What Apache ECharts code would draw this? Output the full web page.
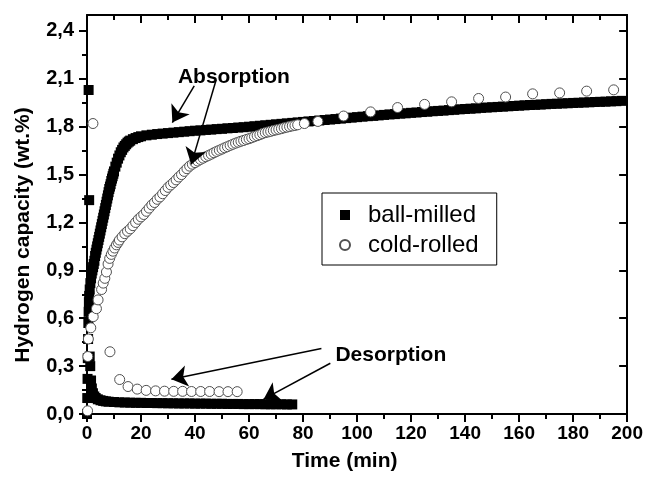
<!DOCTYPE html>
<html><head><meta charset="utf-8">
<script src="https://cdn.jsdelivr.net/npm/echarts@6/dist/echarts.min.js"></script>
<style>html,body{margin:0;padding:0;background:#fff}#c{width:646px;height:477px}</style>
</head><body><div id="c"></div>
<script>
const seriesNames = ['ball-milled', 'cold-rolled'];
const yMajorTicks = [0, 0.3, 0.6, 0.9, 1.2, 1.5, 1.8, 2.1, 2.4];
const yMinorTicks = [0.15, 0.45, 0.75, 1.05, 1.35, 1.65, 1.95, 2.25];
const xTitle = 'Time (min)';
const yTitle = 'Hydrogen capacity (wt.%)';

// ball-milled absorption [time (min), wt.%]
const ballMilledAbs = [
[0,0.0],[0.1,0.1],[0.2,0.22],[0.3,0.35],[0.4,0.47],[0.5,0.57],[0.6,0.64],[0.7,0.7],[0.8,0.74],[1.0,0.78],
[1.25,0.82],[1.5,0.85],[1.75,0.88],[2.0,0.9],[2.25,0.92],[2.5,0.94],[2.75,0.96],[3.0,0.99],[3.25,1.01],[3.5,1.03],
[3.75,1.05],[4.0,1.07],[4.25,1.09],[4.5,1.11],[4.75,1.13],[5.0,1.15],[5.25,1.17],[5.5,1.19],[5.75,1.21],[6.0,1.23],
[6.25,1.25],[6.5,1.27],[6.75,1.29],[7.0,1.31],[7.25,1.33],[7.5,1.35],[7.75,1.37],[8.0,1.39],[8.25,1.41],[8.5,1.425],
[8.75,1.44],[9.0,1.46],[9.25,1.475],[9.5,1.49],[9.75,1.505],[10.0,1.52],[10.5,1.55],[11.0,1.575],[11.5,1.60],[12.0,1.62],
[12.5,1.64],[13.0,1.655],[13.5,1.67],[14.0,1.68],[14.5,1.69],[15.0,1.70],[15.5,1.707],[16,1.713],[17,1.722],[18,1.729],
[19,1.735],[20,1.740],[22,1.746],[24,1.750],[26,1.754],[28,1.757],[30,1.760],[32,1.763],[34,1.766],[36,1.769],[38,1.772],
[40,1.775],[42,1.777],[44,1.780],[46,1.782],[48,1.785],[50,1.787],[52,1.790],[54,1.792],[56,1.795],[58,1.797],
[60,1.800],[62,1.803],[64,1.806],[66,1.809],[68,1.812],[70,1.815],[72,1.818],[74,1.821],[76,1.824],[78,1.827],
[80,1.830],[82,1.833],[84,1.836],[86,1.839],[88,1.842],[90,1.845],[92,1.848],[94,1.851],[96,1.854],[98,1.857],
[100,1.860],[102,1.863],[104,1.866],[106,1.868],[108,1.871],[110,1.874],[112,1.877],[114,1.879],[116,1.882],[118,1.884],
[120,1.887],[122,1.889],[124,1.892],[126,1.894],[128,1.897],[130,1.899],[132,1.901],[134,1.904],[136,1.906],[138,1.909],
[140,1.911],[142,1.913],[144,1.915],[146,1.918],[148,1.920],[150,1.922],[152,1.924],[154,1.926],[156,1.928],[158,1.930],
[160,1.932],[162,1.934],[164,1.936],[166,1.937],[168,1.939],[170,1.941],[172,1.943],[174,1.944],[176,1.946],[178,1.947],
[180,1.949],[182,1.950],[184,1.952],[186,1.953],[188,1.955],[190,1.956],[192,1.957],[194,1.959],[196,1.960],[198,1.962]
];
// ball-milled desorption
const ballMilledDes = [
[0.6,2.03],[0.8,1.34],[1.0,0.36],[1.2,0.3],[1.5,0.21],[1.8,0.16],[2.2,0.13],[2.7,0.11],[3.2,0.1],[4,0.092],
[5,0.086],[6,0.082],[7,0.079],[8,0.077],[10,0.075],[12,0.073],[14,0.072],[16,0.071],[18,0.07],[20,0.07],
[22,0.069],[24,0.069],[26,0.068],[28,0.068],[30,0.067],[32,0.067],[34,0.066],[36,0.066],[38,0.066],[40,0.065],
[42,0.065],[44,0.065],[46,0.064],[48,0.064],[50,0.064],[52,0.063],[54,0.063],[56,0.063],[58,0.062],[60,0.062],
[62,0.062],[64,0.062],[66,0.061],[68,0.061],[70,0.061],[72,0.061],[74,0.06],[76,0.06]
];
// cold-rolled absorption
const coldRolledAbs = [
[0.2,0.02],[0.3,0.36],[0.5,0.47],[1.4,0.54],[2.3,0.61],[3.5,0.66],[4.1,0.715],[5.4,0.78],[6.0,0.82],[6.6,0.85],
[7.2,0.89],[7.8,0.94],[8.4,0.975],[9.0,1.0],[9.6,1.02],[10.2,1.04],[10.9,1.06],[11.5,1.075],[12,1.09],[13,1.11],
[14,1.13],[15,1.145],[16,1.16],[17,1.18],[18,1.20],[19,1.22],[20,1.235],[21,1.25],[22,1.27],[23,1.29],
[24,1.31],[25,1.325],[26,1.345],[27,1.36],[28,1.38],[29,1.40],[30,1.42],[31,1.435],[32,1.45],[33,1.467],
[34,1.485],[35,1.50],[36,1.52],[37,1.537],[38,1.553],[39,1.565],[40,1.575],[41,1.585],[42,1.595],[43,1.603],
[44,1.612],[45,1.62],[46,1.628],[47,1.637],[48,1.645],[49,1.653],[50,1.66],[51,1.668],[52,1.675],[53,1.683],
[54,1.69],[55,1.697],[56,1.703],[57,1.709],[58,1.714],[59,1.72],[60,1.725],[61,1.731],[62,1.738],[63,1.744],
[64,1.75],[65,1.757],[66,1.763],[67,1.767],[68,1.771],[69,1.776],[70,1.78],[71,1.784],[72,1.788],[73,1.793],
[74,1.797],[75,1.801],[76,1.805],[77,1.808],[78,1.812],
[80.5,1.82],[85.5,1.833],[95,1.867],[105,1.893],[115,1.92],[125,1.94],[135,1.956],[145,1.977],[155,1.986],[165,2.006],
[175,2.012],[185,2.023],[195,2.031]
];
// cold-rolled desorption
const coldRolledDes = [
[2.2,1.82],[8.5,0.39],[12.1,0.216],[15.2,0.172],[18.6,0.156],[21.9,0.148],[25.4,0.145],[28.7,0.143],[32.1,0.142],[35.4,0.142],
[38.7,0.141],[42.1,0.141],[45.4,0.141],[48.9,0.14],[52.2,0.14],[55.6,0.14]
];
// annotation texts and arrows (data coordinates)
const annotationTexts = [
  {name: 'Absorption', coord: [54.4, 2.11]},
  {name: 'Desorption', coord: [112.5, 0.37]}
];
const annotationArrows = [
  [[39.7, 2.056], [31.6, 1.826]],
  [[47.8, 2.093], [38.6, 1.564]],
  [[86.8, 0.411], [31.25, 0.218]],
  [[90.1, 0.318], [65.4, 0.093]]
];

const FONT = '"Liberation Sans", Arial, Helvetica, sans-serif';
const black = '#000';
const lineSt = {color: black, width: 2};

const chart = echarts.init(document.getElementById('c'), null, {renderer: 'canvas'});
const yFmt = v => v.toFixed(1).replace('.', ',');

chart.setOption({
  animation: false,
  backgroundColor: '#fff',
  grid: {left: 87, right: 15, top: 15, bottom: 58, containLabel: false},
  legend: {
    orient: 'vertical', left: 322, top: 193,
    padding: [10, 18, 8, 17], itemGap: 6, itemWidth: 10, itemHeight: 10,
    borderColor: black, borderWidth: 1, selectedMode: false,
    textStyle: {fontSize: 24, fontFamily: FONT, color: black, lineHeight: 24, padding: [0, 0, 0, 13]},
    data: seriesNames
  },
  graphic: [
    {type: 'text', x: 23, y: 235, rotation: Math.PI / 2, silent: true,
     style: {text: yTitle, fill: black, font: 'bold 21px ' + FONT, align: 'center', verticalAlign: 'middle'}}
  ],
  xAxis: [
    {type: 'value', position: 'bottom', min: 0, max: 200, interval: 20,
     axisLine: {show: true, onZero: false, lineStyle: lineSt},
     axisTick: {show: true, inside: false, length: 8, lineStyle: lineSt},
     minorTick: {show: true, splitNumber: 2, length: 5, lineStyle: lineSt},
     axisLabel: {color: black, fontSize: 19, fontWeight: 'bold', fontFamily: FONT, margin: 10},
     splitLine: {show: false},
     name: xTitle, nameLocation: 'middle', nameGap: 37,
     nameTextStyle: {color: black, fontSize: 21, fontWeight: 'bold', fontFamily: FONT, padding: [0, 25, 0, 0]}},
    {type: 'value', position: 'top', min: 0, max: 200, interval: 20,
     axisLine: {show: true, onZero: false, lineStyle: lineSt},
     axisTick: {show: true, inside: true, length: 8, lineStyle: lineSt},
     minorTick: {show: true, splitNumber: 2, length: 5, lineStyle: lineSt},
     axisLabel: {show: false}, splitLine: {show: false}}
  ],
  yAxis: [
    {type: 'value', position: 'left', min: 0, max: 2.5,
     axisLine: {show: true, onZero: false, lineStyle: lineSt},
     axisTick: {show: true, inside: false, length: 8, lineStyle: lineSt, customValues: yMajorTicks},
     axisLabel: {color: black, fontSize: 20, fontWeight: 'bold', fontFamily: FONT, margin: 13, customValues: yMajorTicks, formatter: yFmt},
     splitLine: {show: false}},
    {type: 'value', position: 'left', min: 0, max: 2.5,
     axisLine: {show: false},
     axisTick: {show: true, inside: false, length: 5, lineStyle: lineSt, customValues: yMinorTicks},
     axisLabel: {show: false}, splitLine: {show: false}},
    {type: 'value', position: 'right', min: 0, max: 2.5,
     axisLine: {show: true, onZero: false, lineStyle: lineSt},
     axisTick: {show: true, inside: true, length: 8, lineStyle: lineSt, customValues: yMajorTicks},
     axisLabel: {show: false}, splitLine: {show: false}},
    {type: 'value', position: 'right', min: 0, max: 2.5,
     axisLine: {show: false},
     axisTick: {show: true, inside: true, length: 5, lineStyle: lineSt, customValues: yMinorTicks},
     axisLabel: {show: false}, splitLine: {show: false}}
  ],
  series: [
    {name: seriesNames[0], type: 'scatter', symbol: 'rect', symbolSize: 10, silent: true,
     itemStyle: {color: black, opacity: 1}, emphasis: {disabled: true},
     data: ballMilledAbs.concat(ballMilledDes)},
    {name: seriesNames[1], type: 'scatter', symbol: 'circle', symbolSize: 10, silent: true,
     itemStyle: {color: '#fff', borderColor: '#505050', borderWidth: 1, opacity: 1}, emphasis: {disabled: true},
     data: coldRolledAbs.concat(coldRolledDes),
     markLine: {
       silent: true, symbol: ['none', 'arrow'], symbolSize: 16, animation: false,
       lineStyle: {color: black, width: 1.5, type: 'solid', opacity: 1},
       itemStyle: {color: black},
       label: {show: false}, emphasis: {disabled: true},
       data: annotationArrows.map(a => [{coord: a[0]}, {coord: a[1]}])
     },
     markPoint: {
       silent: true, symbol: 'rect', symbolSize: 1, animation: false,
       itemStyle: {color: 'rgba(0,0,0,0)'},
       label: {show: true, position: 'inside', formatter: '{b}', color: black, fontSize: 21, fontWeight: 'bold', fontFamily: FONT},
       data: annotationTexts.map(t => ({name: t.name, coord: t.coord}))
     }}
  ]
});
</script></body></html>
